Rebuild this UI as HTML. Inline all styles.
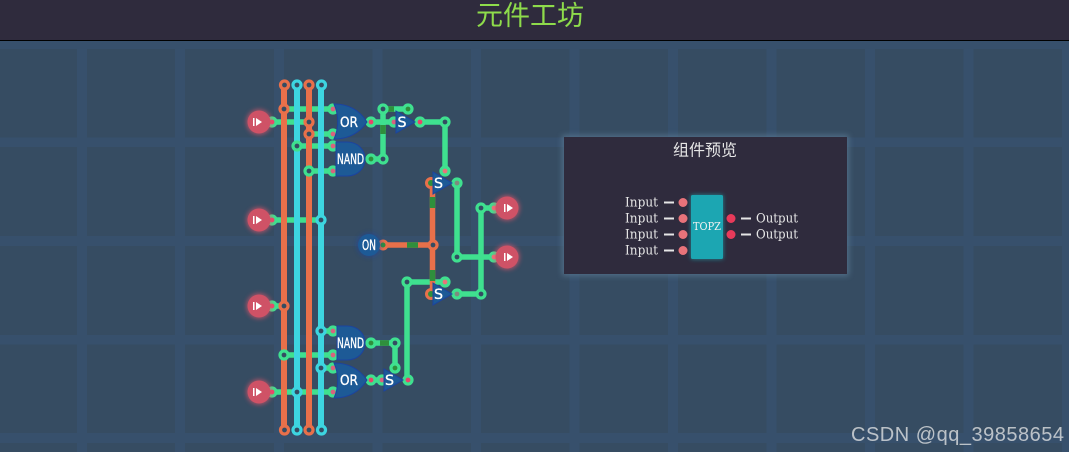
<!DOCTYPE html>
<html><head><meta charset="utf-8"><style>html,body{margin:0;padding:0;background:#364c62}svg{display:block}</style></head><body>
<svg xmlns="http://www.w3.org/2000/svg" width="1069" height="452" viewBox="0 0 1069 452">
<defs>
<filter id="g1" x="-50%" y="-50%" width="200%" height="200%"><feGaussianBlur stdDeviation="2.5"/></filter>
<filter id="g2" x="-30%" y="-30%" width="160%" height="160%"><feGaussianBlur stdDeviation="3"/></filter>
</defs>
<rect width="1069" height="452" fill="#364c62"/>
<g fill="#37506c">
<rect x="0" y="41" width="1069" height="8"/><rect x="0" y="137.500" width="1069" height="9.500"/><rect x="0" y="236" width="1069" height="10"/><rect x="0" y="335" width="1069" height="9.500"/><rect x="0" y="433" width="1069" height="10"/>
<rect x="77" y="41" width="10" height="411"/><rect x="175" y="41" width="10" height="411"/><rect x="274" y="41" width="10" height="411"/><rect x="372.500" y="41" width="10" height="411"/><rect x="471" y="41" width="10" height="411"/><rect x="569.500" y="41" width="10" height="411"/><rect x="668" y="41" width="10" height="411"/><rect x="766.500" y="41" width="10" height="411"/><rect x="865" y="41" width="10" height="411"/><rect x="963.500" y="41" width="10" height="411"/><rect x="1062" y="41" width="7" height="411"/>
</g>
<rect width="1069" height="40" fill="#2f2b3d"/><rect y="40" width="1069" height="1" fill="#000"/>
<text x="530" y="25" text-anchor="middle" font-size="27" fill="#8edb4b" font-family="'Liberation Sans','Noto Sans CJK SC',sans-serif">元件工坊</text>

<!-- green wires -->
<g stroke="#3fe08f" stroke-width="5.500" fill="none">
<path d="M284 109H334M272 122H309M309 134H334M297 146H334M309 171H334"/>
<path d="M272 220H321M272 306H284M321 331H334M284 355H334M321 368H334M272 392H334"/>
<path d="M371 122H395M371 159H383M383 109V159M383 109H408"/>
<path d="M420 122H445V171"/>
<path d="M457 183V257H494M481 208H494M481 208V294H457"/>
<path d="M445 282H407V380"/>
<path d="M371 343H395V368M371 380H384"/>
</g>
<!-- buses -->
<g stroke-width="6" fill="none">
<path d="M284 85V430M309 85V430" stroke="#e8704a"/>
<path d="M297 85V430M321 85V430" stroke="#3dd5e0"/>
</g>
<!-- orange wires -->
<path d="M383 245H433M432.500 183V294" stroke="#e8704a" stroke-width="5.500" fill="none"/>
<g stroke="#2f8f3c" stroke-width="5.500" fill="none">
<path d="M407 245H418M432.500 197V208M432.500 270V281M383 125V134M388 109H394M389 343H380"/>
</g>
<!-- nodes on wires -->
<g fill="#344c62" stroke-width="3.200">
<g stroke="#e8704a">
<circle cx="284.500" cy="85" r="4"/><circle cx="309" cy="85" r="4"/><circle cx="284.500" cy="430" r="4"/><circle cx="309" cy="430" r="4"/>
<circle cx="284" cy="109" r="4"/><circle cx="309" cy="122" r="4"/><circle cx="309" cy="134" r="4"/><circle cx="284" cy="306" r="4"/><circle cx="433" cy="245" r="4"/>
</g>
<g stroke="#3dd5e0">
<circle cx="297" cy="85" r="4"/><circle cx="321.500" cy="85" r="4"/><circle cx="297" cy="430" r="4"/><circle cx="321.500" cy="430" r="4"/>
<circle cx="321" cy="220" r="4"/><circle cx="321" cy="331" r="4"/><circle cx="321" cy="368" r="4"/><circle cx="297" cy="392" r="4"/>
</g>
<g stroke="#3fe08f">
<circle cx="297" cy="146" r="4"/><circle cx="309" cy="171" r="4"/><circle cx="284" cy="355" r="4"/>
<circle cx="383" cy="109" r="4"/><circle cx="383" cy="159" r="4"/><circle cx="445" cy="122" r="4"/><circle cx="395" cy="343" r="4"/>
<circle cx="457" cy="257" r="4"/><circle cx="481" cy="208" r="4"/><circle cx="481" cy="294" r="4"/><circle cx="407" cy="282" r="4"/>
</g>
</g>
<!-- filled pins -->
<g stroke="#3fe08f" stroke-width="3.200">
<circle cx="272" cy="122" r="4" fill="#e8456a"/><circle cx="272" cy="220" r="4" fill="#e8456a"/><circle cx="272" cy="306" r="4" fill="#e8456a"/><circle cx="272" cy="392" r="4" fill="#e8456a"/>
<circle cx="371" cy="122" r="4" fill="#e8456a"/><circle cx="371" cy="380" r="4" fill="#e8456a"/><circle cx="420" cy="122" r="4" fill="#e8456a"/><circle cx="408" cy="380" r="4" fill="#e8456a"/>
<circle cx="371" cy="159" r="4" fill="#2f8f3c"/><circle cx="371" cy="343" r="4" fill="#2f8f3c"/><circle cx="408" cy="109" r="4" fill="#2f8f3c"/><circle cx="395" cy="368" r="4" fill="#2f8f3c"/>
<circle cx="445" cy="171" r="4" fill="#e8737a"/><circle cx="445" cy="282" r="4" fill="#e8737a"/><circle cx="494" cy="208" r="4" fill="#e8737a"/><circle cx="494" cy="257" r="4" fill="#e8737a"/>
<circle cx="457" cy="183" r="4" fill="#7f8a7f"/><circle cx="457" cy="294" r="4" fill="#7f8a7f"/>
<circle cx="333" cy="109" r="4" fill="#d8637e"/><circle cx="333" cy="134" r="4" fill="#d8637e"/><circle cx="333" cy="146" r="4" fill="#d8637e"/><circle cx="333" cy="171" r="4" fill="#d8637e"/><circle cx="333" cy="331" r="4" fill="#d8637e"/><circle cx="333" cy="355" r="4" fill="#d8637e"/><circle cx="333" cy="368" r="4" fill="#d8637e"/><circle cx="333" cy="392" r="4" fill="#d8637e"/><circle cx="394" cy="122" r="4" fill="#d8637e"/><circle cx="382" cy="380" r="4" fill="#d8637e"/>
</g>
<circle cx="431" cy="183" r="4.500" fill="#2f8f3c" stroke="#e8704a" stroke-width="3"/><circle cx="431" cy="294" r="4.500" fill="#2f8f3c" stroke="#e8704a" stroke-width="3"/>
<circle cx="383" cy="245" r="4" fill="#2f8f3c" stroke="#e8704a" stroke-width="3"/>
<!-- gates -->
<g fill="#1d5a96" stroke="#1b43a0" stroke-width="1">
<path d="M334 104C350 104 360 111 367 122C360 132 350 139 334 139C339 128 339 115 334 104Z"/>
<path d="M336 142H347C358 142 365 150 365 159C365 168 358 176 347 176H336Z"/>
<path d="M337 326H347C358 326 365 334 365 343C365 352 358 360 347 360H337Z"/>
<path d="M334 363C350 363 360 370 367 380C360 391 350 398 334 398C339 387 339 374 334 363Z"/>
<path d="M396 111L415 122L396 133Z"/><path d="M433 172L452 183L433 194Z"/><path d="M433 283L452 294L433 305Z"/><path d="M384 369L403 380L384 391Z"/>
</g>
<g fill="#fff" stroke="#fff" stroke-width=".35" font-family="'DejaVu Sans',sans-serif" font-size="14" font-weight="500">
<text x="340" y="127" textLength="18" lengthAdjust="spacingAndGlyphs">OR</text>
<text x="337" y="164" textLength="27" lengthAdjust="spacingAndGlyphs">NAND</text>
<text x="337" y="348" textLength="27" lengthAdjust="spacingAndGlyphs">NAND</text>
<text x="340" y="385" textLength="18" lengthAdjust="spacingAndGlyphs">OR</text>
<text x="397.500" y="127" textLength="9" lengthAdjust="spacingAndGlyphs">S</text>
<text x="434" y="188" textLength="9" lengthAdjust="spacingAndGlyphs">S</text>
<text x="434" y="299" textLength="9" lengthAdjust="spacingAndGlyphs">S</text>
<text x="385" y="385" textLength="9" lengthAdjust="spacingAndGlyphs">S</text>
</g>
<!-- ON -->
<circle cx="369" cy="245" r="12" fill="#1b43a0" opacity=".6" filter="url(#g1)"/>
<circle cx="369" cy="245" r="11" fill="#1d5a96"/>
<text x="362" y="250" fill="#fff" stroke="#fff" stroke-width=".35" font-family="'DejaVu Sans',sans-serif" font-size="14" textLength="14" lengthAdjust="spacingAndGlyphs">ON</text>
<!-- LEDs -->
<g>
<g fill="#e8556a" opacity=".7" filter="url(#g1)"><circle cx="259" cy="122" r="12.500"/><circle cx="259" cy="220" r="12.500"/><circle cx="259" cy="306" r="12.500"/><circle cx="259" cy="392" r="12.500"/><circle cx="507" cy="208" r="12.500"/><circle cx="507" cy="257" r="12.500"/></g>
<g fill="#cf5266"><circle cx="259" cy="122" r="11.500"/><circle cx="259" cy="220" r="11.500"/><circle cx="259" cy="306" r="11.500"/><circle cx="259" cy="392" r="11.500"/><circle cx="507" cy="208" r="11.500"/><circle cx="507" cy="257" r="11.500"/></g>
<g fill="#fff">
<path d="M253 118h1.500v8h-1.500zM256 118l6 4-6 4z"/><path d="M253 216h1.500v8h-1.500zM256 216l6 4-6 4z"/><path d="M253 302h1.500v8h-1.500zM256 302l6 4-6 4z"/><path d="M253 388h1.500v8h-1.500zM256 388l6 4-6 4z"/>
<path d="M504 204h1.500v8h-1.500zM507 204l6 4-6 4z"/><path d="M504 253h1.500v8h-1.500zM507 253l6 4-6 4z"/>
</g>
</g>
<!-- panel -->
<rect x="562" y="135" width="287" height="141" fill="#5b7c96" opacity=".7" filter="url(#g2)"/>
<rect x="564" y="137" width="283" height="137" fill="#2f2b3d"/>
<text x="705" y="155.500" text-anchor="middle" font-size="16" fill="#e6e6e6" font-family="'Liberation Sans','Noto Sans CJK SC',sans-serif">组件预览</text>
<rect x="691" y="195" width="32" height="64" fill="#1fc8d0" opacity=".6" filter="url(#g1)"/>
<rect x="691" y="195" width="32" height="64" rx="1.500" fill="#1ca6b2"/>
<text x="707" y="230" text-anchor="middle" font-size="11" fill="#f2f2f2" font-family="'DejaVu Serif','Liberation Serif',serif" textLength="28" lengthAdjust="spacingAndGlyphs">TOPZ</text>
<g fill="#e8737a"><circle cx="683" cy="202.500" r="4.500"/><circle cx="683" cy="218.500" r="4.500"/><circle cx="683" cy="234.500" r="4.500"/><circle cx="683" cy="250.500" r="4.500"/></g>
<g fill="#e83a5a"><circle cx="731" cy="218.500" r="4.500"/><circle cx="731" cy="234.500" r="4.500"/></g>
<g fill="#e6e6e6"><rect x="664" y="201.500" width="10" height="2"/><rect x="664" y="217.500" width="10" height="2"/><rect x="664" y="233.500" width="10" height="2"/><rect x="664" y="249.500" width="10" height="2"/><rect x="741" y="217.500" width="10" height="2"/><rect x="741" y="233.500" width="10" height="2"/></g>
<g fill="#e6e6e6" font-family="'DejaVu Serif','Liberation Serif',serif" font-size="13">
<text x="625" y="206.500" textLength="33" lengthAdjust="spacingAndGlyphs">Input</text><text x="625" y="222.500" textLength="33" lengthAdjust="spacingAndGlyphs">Input</text><text x="625" y="238.500" textLength="33" lengthAdjust="spacingAndGlyphs">Input</text><text x="625" y="254.500" textLength="33" lengthAdjust="spacingAndGlyphs">Input</text>
<text x="756" y="222.500" textLength="42" lengthAdjust="spacingAndGlyphs">Output</text><text x="756" y="238.500" textLength="42" lengthAdjust="spacingAndGlyphs">Output</text>
</g>
<text x="851" y="441" font-size="20" fill="#e8e8e8" fill-opacity=".75" font-family="'Liberation Sans',sans-serif" textLength="213">CSDN @qq_39858654</text>
</svg>
</body></html>
